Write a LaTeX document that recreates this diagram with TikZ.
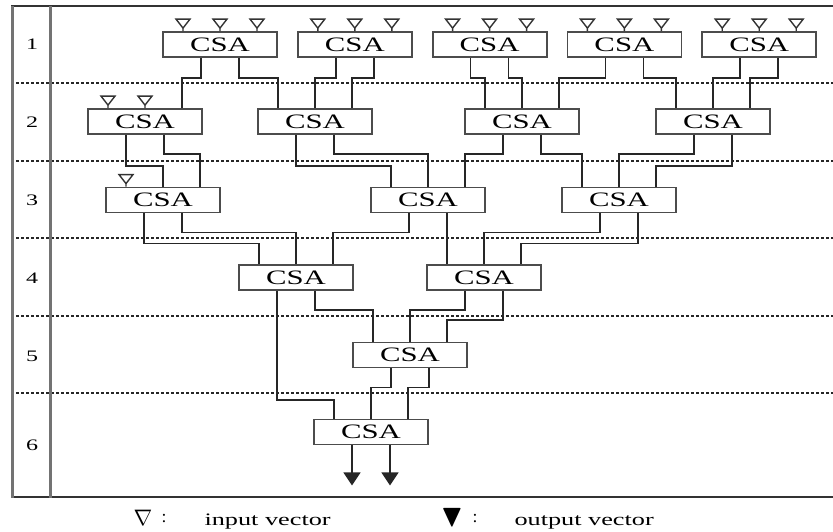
\documentclass[tikz,border=0pt]{standalone}
\usepackage{fontspec}
\setmainfont{Liberation Serif}
\usepackage{amssymb}
\usetikzlibrary{positioning,arrows.meta}

% text in the drawing is set wide
\newcommand{\wide}[1]{\scalebox{1.5}[1]{#1}}

\tikzset{
  csa/.style={draw=black!70, line width=1.8pt, minimum width=114pt, minimum height=25pt,
    inner sep=0pt, font=\fontsize{20.5}{22}\selectfont},
  wire/.style={draw=black!85, line width=1.5pt},
  rowline/.style={black!85, line width=1.1pt, dash pattern=on 3pt off 2pt},
  framev/.style={black!55, line width=3pt},
  frameh/.style={black!80, line width=1.5pt},
  rownum/.style={font=\fontsize{16}{18}\selectfont},
  legend/.style={font=\fontsize{17.5}{20}\selectfont},
  outvec/.style={wire, -{Triangle[width=17pt,length=13pt]}},
  invec/.pic={\draw[black!80, line width=1.4pt] (0,0) -- (0,-3) (0,-3) -- (-7,-12) -- (7,-12) -- cycle;},
}

\begin{document}
\begin{tikzpicture}[x=1pt, y=-1pt]

  \useasboundingbox (0,0) rectangle (833,531);

  % Frame and row separators
  \draw[frameh] (11,6) -- (833,6);
  \draw[frameh] (11,497) -- (833,497);
  \foreach \yy in {83,161,238,316,393}
    \draw[rowline] (11,\yy) -- (833,\yy);
  \draw[framev] (12.5,5.5) -- (12.5,497.5);
  \draw[framev] (50,5.5) -- (50,497.5);

  % Row numbers
  \node[rownum] (n1) at (32,44.5) {\wide{1}};
  \node[rownum] (n2) at (32,122) {\wide{2}};
  \node[rownum] (n3) at (32,200) {\wide{3}};
  \node[rownum] (n4) at (32,278) {\wide{4}};
  \node[rownum] (n5) at (32,356) {\wide{5}};
  \node[rownum] (n6) at (32,445) {\wide{6}};

  % Row 1
  \node[csa] (r1a) at (220,44.5) {\wide{CSA}};
  \node[csa, right=19pt of r1a] (r1b) {\wide{CSA}};
  \node[csa, right=19pt of r1b] (r1c) {\wide{CSA}};
  \node[csa, right=19pt of r1c] (r1d) {\wide{CSA}};
  \node[csa, right=19pt of r1d] (r1e) {\wide{CSA}};

  % Row 2
  \node[csa] (r2a) at (145,121.5) {\wide{CSA}};
  \node[csa] (r2b) at (315,121.5) {\wide{CSA}};
  \node[csa] (r2c) at (522,121.5) {\wide{CSA}};
  \node[csa] (r2d) at (713,121.5) {\wide{CSA}};

  % Row 3
  \node[csa] (r3a) at (163,200) {\wide{CSA}};
  \node[csa] (r3b) at (428,200) {\wide{CSA}};
  \node[csa] (r3c) at (619,200) {\wide{CSA}};

  % Row 4
  \node[csa] (r4a) at (296,277.5) {\wide{CSA}};
  \node[csa] (r4b) at (484,277.5) {\wide{CSA}};

  % Row 5 and 6
  \node[csa] (r5) at (410,355) {\wide{CSA}};
  \node[csa] (r6) at (371,432) {\wide{CSA}};

  % Input vectors
  \foreach \b in {r1a,r1b,r1c,r1d,r1e}
    \foreach \dx in {-37,0,37}
      \pic at ([xshift=\dx]\b.north) {invec};
  \pic at ([xshift=-37]r2a.north) {invec};
  \pic at (r2a.north) {invec};
  \pic at ([xshift=-37]r3a.north) {invec};

  % Row 1 to row 2
  \draw[wire] ([xshift=-19]r1a.south) -- ++(0,20) -| ([xshift=37]r2a.north);
  \draw[wire] ([xshift=19]r1a.south) -- ++(0,20) -| ([xshift=-37]r2b.north);
  \draw[wire] ([xshift=-19]r1b.south) -- ++(0,20) -| (r2b.north);
  \draw[wire] ([xshift=19]r1b.south) -- ++(0,20) -| ([xshift=37]r2b.north);
  \draw[wire] ([xshift=-19]r1c.south) -- ++(0,20) -| ([xshift=-37]r2c.north);
  \draw[wire] ([xshift=19]r1c.south) -- ++(0,20) -| (r2c.north);
  \draw[wire] ([xshift=-19]r1d.south) -- ++(0,20) -| ([xshift=37]r2c.north);
  \draw[wire] ([xshift=19]r1d.south) -- ++(0,20) -| ([xshift=-37]r2d.north);
  \draw[wire] ([xshift=-19]r1e.south) -- ++(0,20) -| (r2d.north);
  \draw[wire] ([xshift=19]r1e.south) -- ++(0,20) -| ([xshift=37]r2d.north);

  % Row 2 to row 3
  \draw[wire] ([xshift=-19]r2a.south) -- ++(0,31) -| (r3a.north);
  \draw[wire] ([xshift=19]r2a.south) -- ++(0,19) -| ([xshift=37]r3a.north);
  \draw[wire] ([xshift=-19]r2b.south) -- ++(0,31) -| ([xshift=-37]r3b.north);
  \draw[wire] ([xshift=19]r2b.south) -- ++(0,19) -| (r3b.north);
  \draw[wire] ([xshift=-19]r2c.south) -- ++(0,19) -| ([xshift=37]r3b.north);
  \draw[wire] ([xshift=19]r2c.south) -- ++(0,19) -| ([xshift=-37]r3c.north);
  \draw[wire] ([xshift=-19]r2d.south) -- ++(0,19) -| (r3c.north);
  \draw[wire] ([xshift=19]r2d.south) -- ++(0,31) -| ([xshift=37]r3c.north);

  % Row 3 to row 4
  \draw[wire] ([xshift=-19]r3a.south) -- ++(0,30) -| ([xshift=-37]r4a.north);
  \draw[wire] ([xshift=19]r3a.south) -- ++(0,19) -| (r4a.north);
  \draw[wire] ([xshift=-19]r3b.south) -- ++(0,19) -| ([xshift=37]r4a.north);
  \draw[wire] ([xshift=19]r3b.south) -- ([xshift=-37]r4b.north);
  \draw[wire] ([xshift=-19]r3c.south) -- ++(0,19) -| (r4b.north);
  \draw[wire] ([xshift=19]r3c.south) -- ++(0,30) -| ([xshift=37]r4b.north);

  % Row 4 to rows 5 and 6
  \draw[wire] ([xshift=-19]r4a.south) -- ++(0,109) -| ([xshift=-37]r6.north);
  \draw[wire] ([xshift=19]r4a.south) -- ++(0,19) -| ([xshift=-37]r5.north);
  \draw[wire] ([xshift=-19]r4b.south) -- ++(0,19) -| (r5.north);
  \draw[wire] ([xshift=19]r4b.south) -- ++(0,29) -| ([xshift=37]r5.north);

  % Row 5 to row 6
  \draw[wire] ([xshift=-19]r5.south) -- ++(0,19) -| (r6.north);
  \draw[wire] ([xshift=19]r5.south) -- ++(0,19) -| ([xshift=37]r6.north);

  % Output vectors
  \draw[outvec] ([xshift=-19]r6.south) -- ++(0,40);
  \draw[outvec] ([xshift=19]r6.south) -- ++(0,40);

  % Legend
  \node[legend] (insym) at (143,518) {\scalebox{1.3}{$\nabla$}};
  \node[legend] (incol) at (164,519) {:};
  \node[legend, anchor=base west] (intext) at (201,525) {\wide{input vector}};
  \node[legend] (outsym) at (452,518) {\scalebox{1.8}{$\blacktriangledown$}};
  \node[legend] (outcol) at (475,519) {:};
  \node[legend, anchor=base west] (outtext) at (511,525) {\wide{output vector}};

\end{tikzpicture}
\end{document}
